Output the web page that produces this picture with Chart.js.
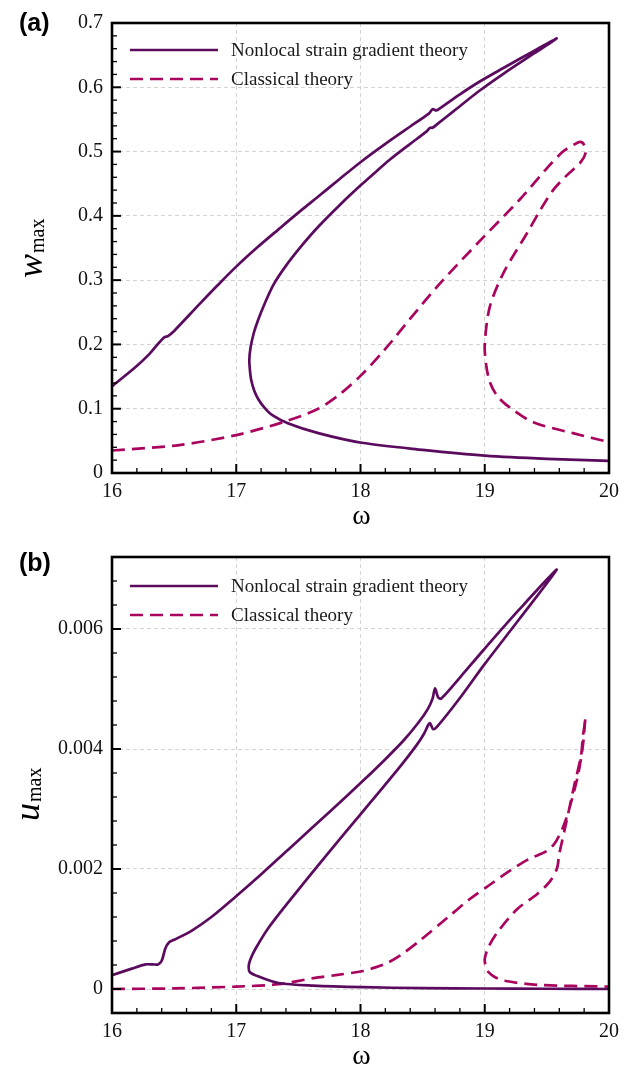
<!DOCTYPE html>
<html>
<head>
<meta charset="utf-8">
<script src="https://cdn.jsdelivr.net/npm/chart.js@4.4.1/dist/chart.umd.min.js"></script>
<style>
body { margin: 0; background: #fff; width: 632px; height: 1073px; overflow: hidden; position: relative; }
canvas { position: absolute; left: 0; }
#chartA { top: 0; }
#chartB { top: 535px; }
</style>
</head>
<body>
<canvas id="chartA" width="632" height="535" style="width:632px;height:535px"></canvas>
<canvas id="chartB" width="632" height="538" style="width:632px;height:538px"></canvas>
<script>
// shared axis / legend text
const seriesNames = ['Nonlocal strain gradient theory', 'Classical theory'];
const xTicks = [16, 17, 18, 19, 20];
const xTickLabels = ['16', '17', '18', '19', '20'];

// panel (a): w_max vs omega
const aYTicks = [0, 0.1, 0.2, 0.3, 0.4, 0.5, 0.6, 0.7];
const aYTickLabels = ['0', '0.1', '0.2', '0.3', '0.4', '0.5', '0.6', '0.7'];
const aNsgtOmega = [16, 16.19, 16.3, 16.38, 16.42, 16.45, 16.5, 16.7, 16.85, 17, 17.17, 17.34, 17.5, 17.66, 17.83, 18.01, 18.2, 18.4, 18.55, 18.58, 18.61, 18.63, 18.8, 18.96, 19.15, 19.4, 19.58,
  19.4, 19.15, 18.96, 18.75, 18.62, 18.58, 18.56, 18.53, 18.4, 18.24, 18.12, 18.01, 17.85, 17.66, 17.52, 17.395, 17.3, 17.23, 17.17, 17.14, 17.115, 17.105, 17.11, 17.12, 17.145, 17.18, 17.23, 17.29, 17.42, 17.66, 18.01, 18.5, 19, 19.5, 20];
const aNsgtW = [0.135, 0.165, 0.185, 0.203, 0.211, 0.213, 0.221, 0.262, 0.292, 0.321, 0.351, 0.379, 0.405, 0.43, 0.457, 0.485, 0.512, 0.539, 0.559, 0.566, 0.564, 0.566, 0.589, 0.609, 0.63, 0.657, 0.676,
  0.653, 0.621, 0.595, 0.563, 0.543, 0.537, 0.537, 0.531, 0.512, 0.488, 0.468, 0.449, 0.42, 0.383, 0.352, 0.321, 0.293, 0.264, 0.235, 0.217, 0.195, 0.176, 0.16, 0.145, 0.128, 0.114, 0.101, 0.09, 0.077, 0.062, 0.047, 0.036, 0.027, 0.022, 0.019];
const aClsOmega = [16, 16.54, 17, 17.39, 17.66, 17.85, 18.01, 18.2, 18.4, 18.64, 18.99, 19.28, 19.5, 19.63, 19.72, 19.77, 19.8, 19.81, 19.77, 19.66, 19.55, 19.45, 19.34, 19.15, 19.04, 19, 19.01, 19.04, 19.1, 19.2, 19.39, 19.71, 20];
const aClsW = [0.035, 0.0435, 0.059, 0.08, 0.1, 0.125, 0.153, 0.193, 0.24, 0.295, 0.367, 0.425, 0.474, 0.5, 0.511, 0.515, 0.51, 0.497, 0.483, 0.463, 0.44, 0.41, 0.373, 0.311, 0.258, 0.2, 0.17, 0.142, 0.12, 0.102, 0.079, 0.062, 0.048];

// panel (b): u_max vs omega
const bYTicks = [0, 0.002, 0.004, 0.006];
const bYTickLabels = ['0', '0.002', '0.004', '0.006'];
const bNsgtOmega = [16, 16.16, 16.27, 16.33, 16.37, 16.4, 16.43, 16.46, 16.5, 16.64, 16.8, 16.99, 17.21, 17.475, 17.75, 18.02, 18.2, 18.35, 18.47, 18.54, 18.58, 18.6, 18.625, 18.65, 18.8, 18.99, 19.28, 19.58,
  19.28, 18.99, 18.8, 18.62, 18.585, 18.56, 18.545, 18.51, 18.45, 18.32, 18.02, 17.75, 17.475, 17.26, 17.155, 17.115, 17.1, 17.11, 17.19, 17.34, 17.62, 18.02, 18.5, 19, 19.5, 20];
const bNsgtU = [0.00023, 0.00034, 0.00041, 0.00041, 0.00041, 0.00047, 0.00068, 0.00078, 0.00082, 0.00097, 0.0012, 0.00153, 0.00193, 0.00243, 0.00295, 0.00347, 0.00383, 0.00415, 0.00445, 0.00466, 0.00484, 0.00501, 0.00486, 0.00484, 0.00519, 0.00565, 0.00633, 0.00699,
  0.00617, 0.00539, 0.00485, 0.00438, 0.00433, 0.00443, 0.0044, 0.00425, 0.00406, 0.00371, 0.00296, 0.00229, 0.00159, 0.00102, 0.00067, 0.0005, 0.00038, 0.00028, 0.0002, 0.0001, 0.000056, 0.00003, 0.000015, 0.000008, 0.000004, 0];
const bClsOmega = [16, 16.5, 17, 17.34, 17.62, 17.8, 18.02, 18.12, 18.22, 18.32, 18.48, 18.7, 18.88, 19.05, 19.2, 19.35, 19.5, 19.56, 19.6, 19.64, 19.68, 19.75, 19.79, 19.81,
  19.8, 19.79, 19.775, 19.72, 19.65, 19.6, 19.58, 19.52, 19.42, 19.26, 19.1, 19.03, 19, 19.01, 19.03, 19.08, 19.15, 19.42, 20];
const bClsU = [0, 0.00001, 0.00004, 0.00008, 0.00018, 0.00023, 0.0003, 0.00036, 0.00044, 0.00056, 0.00081, 0.00119, 0.0015, 0.00175, 0.00197, 0.00216, 0.0023, 0.00242, 0.00256, 0.00275, 0.003, 0.00356, 0.00406, 0.00453,
  0.00435, 0.00422, 0.00389, 0.00339, 0.00272, 0.00225, 0.002, 0.00178, 0.00158, 0.00133, 0.00094, 0.0007, 0.0005, 0.00036, 0.00028, 0.0002, 0.00014, 0.00007, 0.00004];

function pts(xs, ys) {
  return xs.map(function (x, i) { return { x: x, y: ys[i] }; });
}

// frame, inward ticks, legend, axis titles, panel letter
const decor = {
  id: 'decor',
  afterDraw: function (chart, args, o) {
    const ctx = chart.ctx, a = chart.chartArea;
    const xs = chart.scales.x, ys = chart.scales.y;
    ctx.save();
    ctx.strokeStyle = '#000';

    function ticks(sc, step, major, horiz) {
      const n = Math.round((sc.max - sc.min) / step);
      for (let i = 0; i <= n; i++) {
        const v = sc.min + i * step;
        const isMajor = Math.abs(v / major - Math.round(v / major)) < 1e-6;
        const len = isMajor ? 9 : 5;
        const p = sc.getPixelForValue(v);
        ctx.lineWidth = isMajor ? 2 : 1.3;
        ctx.beginPath();
        if (horiz) { ctx.moveTo(p, a.bottom); ctx.lineTo(p, a.bottom - len); }
        else { ctx.moveTo(a.left, p); ctx.lineTo(a.left + len, p); }
        ctx.stroke();
      }
    }
    ticks(xs, o.minorX, 1, true);
    ticks(ys, o.minorY, o.majorY, false);

    ctx.lineWidth = 2.6;
    ctx.strokeRect(a.left, a.top, a.right - a.left, a.bottom - a.top);

    // legend
    chart.data.datasets.forEach(function (ds, i) {
      const y = a.top + o.legendRows[i];
      ctx.strokeStyle = ds.borderColor;
      ctx.lineWidth = ds.borderWidth;
      ctx.setLineDash(ds.borderDash || []);
      ctx.beginPath();
      ctx.moveTo(a.left + 18, y);
      ctx.lineTo(a.left + 106, y);
      ctx.stroke();
      ctx.setLineDash([]);
      ctx.fillStyle = '#1a1a1a';
      ctx.font = '19px "Liberation Serif"';
      ctx.textAlign = 'left';
      ctx.textBaseline = 'middle';
      ctx.fillText(ds.label, a.left + 119, y + 1);
    });

    // x title
    ctx.fillStyle = '#000';
    ctx.font = '28px "Liberation Serif"';
    ctx.textAlign = 'center';
    ctx.textBaseline = 'middle';
    ctx.fillText('ω', (a.left + a.right) / 2 + 1, a.bottom + 44);

    // y title with subscript
    ctx.save();
    ctx.translate(o.yTitleX, o.yTitleY);
    ctx.rotate(-Math.PI / 2);
    ctx.textAlign = 'left';
    ctx.textBaseline = 'alphabetic';
    ctx.font = 'italic 36px "Liberation Serif"';
    ctx.fillText(o.yMain, 0, 0);
    const w = ctx.measureText(o.yMain).width;
    ctx.font = '20px "Liberation Serif"';
    ctx.fillText('max', w + 1, 2);
    ctx.restore();

    // panel letter
    ctx.font = 'bold 25px "Liberation Sans"';
    ctx.textAlign = 'left';
    ctx.textBaseline = 'middle';
    ctx.fillText(o.panel, 19, o.panelY);
    ctx.restore();
  }
};

function makeChart(id, s) {
  const ctx = document.getElementById(id).getContext('2d');
  return new Chart(ctx, {
    type: 'scatter',
    data: {
      datasets: [{
        label: seriesNames[0],
        data: pts(s.nsgtX, s.nsgtY),
        borderColor: '#5b0b5e',
        borderWidth: 2.7,
        showLine: true,
        pointRadius: 0,
        tension: 0.3,
        fill: false
      }, {
        label: seriesNames[1],
        data: pts(s.clsX, s.clsY),
        borderColor: '#aa055e',
        borderWidth: 2.7,
        borderDash: [13, 7],
        showLine: true,
        pointRadius: 0,
        tension: 0.3,
        fill: false
      }]
    },
    options: {
      responsive: false,
      animation: false,
      events: [],
      layout: { padding: { left: 0, top: s.padTop, right: 23, bottom: 0 } },
      scales: {
        x: {
          type: 'linear',
          min: 16, max: 20,
          afterFit: function (sc) { sc.height = s.xAxisH; },
          afterBuildTicks: function (sc) { sc.ticks = xTicks.map(function (v) { return { value: v }; }); },
          grid: { color: '#d4d4d4', lineWidth: 1, drawTicks: false },
          border: { display: false, dash: [4, 3] },
          ticks: {
            padding: 7,
            color: '#111',
            font: { family: 'Liberation Serif', size: 20 },
            callback: function (v, i) { return xTickLabels[i]; }
          }
        },
        y: {
          type: 'linear',
          min: s.yMin, max: s.yMax,
          afterFit: function (sc) { sc.width = 112; },
          afterBuildTicks: function (sc) { sc.ticks = s.yTicks.map(function (v) { return { value: v }; }); },
          grid: { color: '#d4d4d4', lineWidth: 1, drawTicks: false },
          border: { display: false, dash: [4, 3] },
          ticks: {
            padding: 9,
            color: '#111',
            font: { family: 'Liberation Serif', size: 20 },
            callback: function (v, i) { return s.yLabels[i]; }
          }
        }
      },
      plugins: {
        legend: { display: false },
        tooltip: { enabled: false },
        decor: s.decor
      }
    },
    plugins: [decor]
  });
}

makeChart('chartA', {
  nsgtX: aNsgtOmega, nsgtY: aNsgtW, clsX: aClsOmega, clsY: aClsW,
  yMin: 0, yMax: 0.7, yTicks: aYTicks, yLabels: aYTickLabels,
  padTop: 23, xAxisH: 62,
  decor: { panel: '(a)', panelY: 24, yMain: 'w', yTitleX: 42, yTitleY: 278,
    minorX: 0.2, minorY: 0.02, majorY: 0.1, legendRows: [27, 56] }
});

makeChart('chartB', {
  nsgtX: bNsgtOmega, nsgtY: bNsgtU, clsX: bClsOmega, clsY: bClsU,
  yMin: -0.0004, yMax: 0.0072, yTicks: bYTicks, yLabels: bYTickLabels,
  padTop: 22, xAxisH: 60,
  decor: { panel: '(b)', panelY: 29, yMain: 'u', yTitleX: 39, yTitleY: 286,
    minorX: 0.2, minorY: 0.0004, majorY: 0.002, legendRows: [29, 58] }
});
</script>
</body>
</html>
